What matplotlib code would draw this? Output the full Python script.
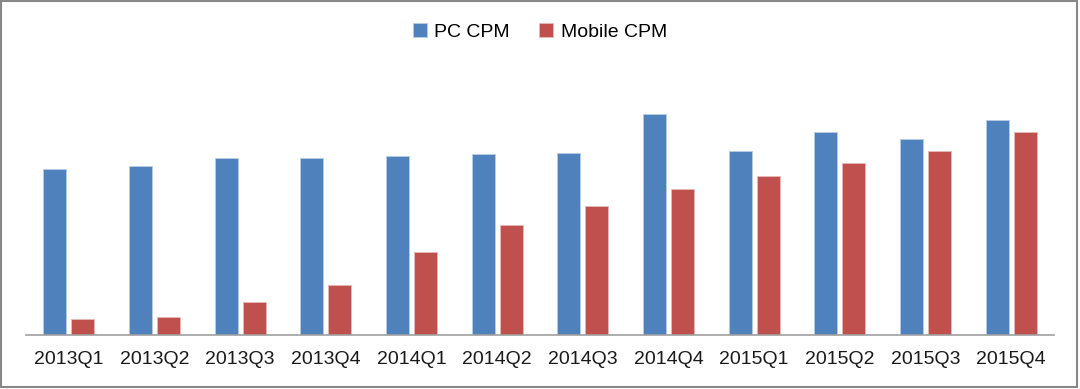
import matplotlib
matplotlib.use("Agg")
import matplotlib.pyplot as plt
import numpy as np
from matplotlib.patches import Rectangle
from matplotlib import font_manager

quarters = ["2013Q1", "2013Q2", "2013Q3", "2013Q4", "2014Q1", "2014Q2",
            "2014Q3", "2014Q4", "2015Q1", "2015Q2", "2015Q3", "2015Q4"]
pc_cpm = [166, 169, 176.5, 176.5, 179, 181, 182, 221, 184, 203, 195.5, 215]
mobile_cpm = [16, 17.5, 33, 50, 83, 110, 129, 146, 158.5, 171.5, 184, 203]

names = {f.name for f in font_manager.fontManager.ttflist}
fam = "Liberation Sans Narrow" if "Liberation Sans Narrow" in names else "Liberation Sans"
plt.rcParams['font.family'] = [fam, 'DejaVu Sans']

fig = plt.figure(figsize=(10.8, 3.89), dpi=100)
ax = fig.add_axes([0.024, 0.140, 0.952, 0.654])

x = np.arange(len(quarters))
w = 0.27
off = 0.164
ax.bar(x - off, pc_cpm, w, color="#4F81BD", edgecolor="#B9CDE5", linewidth=0.6, label="PC CPM")
ax.bar(x + off, mobile_cpm, w, color="#C0504D", edgecolor="#E6B9B8", linewidth=0.6, label="Mobile CPM")

ax.set_xlim(-0.5, len(quarters) - 0.5)
ax.set_ylim(0, 254.5)
ax.set_xticks(x)
ax.set_xticklabels(quarters, fontsize=14, color="#1a1a1a")
ax.tick_params(axis="x", length=0, pad=12)
ax.set_yticks([])
for s in ["top", "right", "left"]:
    ax.spines[s].set_visible(False)
ax.spines["bottom"].set_color("#A0A0A0")
ax.spines["bottom"].set_linewidth(1.2)

fig.legend(loc="center", bbox_to_anchor=(0.5, 0.918), ncol=2, frameon=False,
           fontsize=14, handlelength=0.7, handleheight=0.7, handletextpad=0.4,
           columnspacing=1.5)

fig.patches.append(Rectangle((0.001, 0.004), 0.996, 0.993, transform=fig.transFigure,
                             fill=False, edgecolor="#888888", linewidth=1.5))

fig.savefig("out.png", dpi=100)
